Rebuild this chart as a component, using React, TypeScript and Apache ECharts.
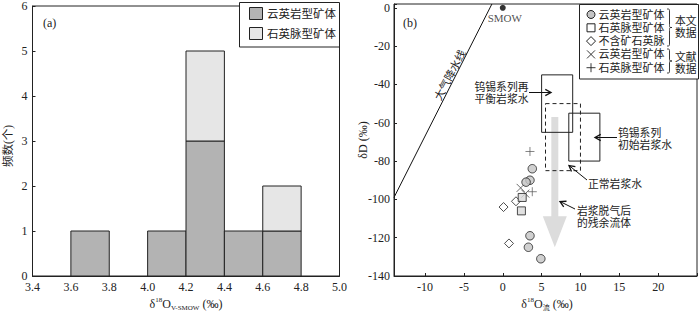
import React, { useEffect, useRef } from "react";
import * as echarts from "echarts";

// ---------- data: panel (a) histogram ----------
const binStarts = [3.6, 4.0, 4.2, 4.4, 4.6];
const binWidth = 0.2;
const greisenCounts = [1, 1, 3, 1, 1];
const veinCounts = [0, 0, 2, 0, 1];

// ---------- data: panel (b) δD vs δ18O ----------
const greisenPts = [[3.8, -84], [3.5, -90], [3.0, -91], [3.5, -119], [3.3, -125], [4.9, -131]];
const veinPts = [[2.5, -99], [2.4, -106]];
const barrenPts = [[0.1, -104], [1.7, -101], [0.8, -123]];
const litGreisenPts = [[2.3, -94], [2.9, -97]];
const litVeinPts = [[3.5, -75], [3.8, -96]];
const smowPt = [[0, 0]];
const meteoricLine = [[-14, -99], [-1.4, 2]];
// [xMin, xMax, yMin, yMax, dashed]
const reequilibratedBox = [5, 9, -65, -35, 0];
const normalBox = [5.5, 10, -85, -50, 1];
const primaryBox = [8.5, 12.5, -80, -55, 0];
// [x, yTop, yTip]
const degassingArrow = [6.7, -57, -125];

const yTicksA = [0, 1, 2, 3, 4, 5, 6];

const serif = "'Liberation Serif', 'Times New Roman', serif";
const cjk = "'Liberation Serif', 'Noto Sans CJK SC', sans-serif";
const ink = "#222";

function txt(x: number, y: number, text: string, opts: any = {}) {
  const align = opts.align || "left";
  const va = opts.va || "middle";
  return {
    type: "text",
    x,
    y,
    rotation: opts.rotation || 0,
    silent: true,
    z: 100,
    style: {
      text,
      fontSize: opts.fontSize || 11,
      fontFamily: opts.fontFamily || cjk,
      fill: opts.fill || ink,
      align,
      textAlign: align,
      verticalAlign: va,
      textVerticalAlign: va,
      rich: opts.rich,
    },
  };
}

// two-line label as two separate texts
function txt2(x: number, yMid: number, l1: string, l2: string, gap: number, opts: any = {}) {
  return [txt(x, yMid - gap / 2, l1, opts), txt(x, yMid + gap / 2, l2, opts)];
}

function arrow(x1: number, y1: number, x2: number, y2: number) {
  const ang = Math.atan2(y2 - y1, x2 - x1);
  const L = 6.5;
  const a1 = ang + Math.PI - 0.5;
  const a2 = ang + Math.PI + 0.5;
  return [
    { type: "line", silent: true, z: 100, shape: { x1, y1, x2, y2 }, style: { stroke: "#111", lineWidth: 1 } },
    {
      type: "polyline",
      silent: true,
      z: 100,
      shape: {
        points: [
          [x2 + L * Math.cos(a1), y2 + L * Math.sin(a1)],
          [x2, y2],
          [x2 + L * Math.cos(a2), y2 + L * Math.sin(a2)],
        ],
      },
      style: { stroke: "#111", fill: "none", lineWidth: 1.3 },
    },
  ];
}

function brace(x0: number, yT: number, yB: number) {
  const m = (yT + yB) / 2;
  const xm = x0 + 2.5;
  const xt = x0 + 5;
  const st = { stroke: ink, fill: "none", lineWidth: 0.9 };
  const bz = (x1: number, y1: number, cx: number, cy: number, x2: number, y2: number) => ({
    type: "bezierCurve",
    silent: true,
    z: 100,
    shape: { x1, y1, x2, y2, cpx1: cx, cpy1: cy, cpx2: cx, cpy2: cy },
    style: st,
  });
  return [
    bz(x0, yT, xm, yT, xm, yT + 3),
    { type: "line", silent: true, z: 100, shape: { x1: xm, y1: yT + 3, x2: xm, y2: m - 3 }, style: st },
    bz(xm, m - 3, xm, m, xt, m),
    bz(xt, m, xm, m, xm, m + 3),
    { type: "line", silent: true, z: 100, shape: { x1: xm, y1: m + 3, x2: xm, y2: yB - 3 }, style: st },
    bz(xm, yB - 3, xm, yB, x0, yB),
  ];
}

function buildGraphic() {
  const g: any[] = [];
  // panel labels
  g.push(txt(43, 23, "(a)", { fontFamily: serif, fontSize: 12 }));
  g.push(txt(403, 23, "(b)", { fontFamily: serif, fontSize: 12 }));

  // axis titles
  const supSub = {
    sup: { fontSize: 7, fontFamily: serif, fill: ink, padding: [0, 0, 9, 0] },
    sub: { fontSize: 7, fontFamily: serif, fill: ink, padding: [7, 0, 0, 0] },
    subc: { fontSize: 7, fontFamily: cjk, fill: ink, padding: [7, 0, 0, 0] },
  };
  g.push(txt(186, 304, "δ{sup|18}O{sub|V-SMOW} (‰)", { fontFamily: serif, fontSize: 12, align: "center", rich: supSub }));
  g.push(txt(547, 304, "δ{sup|18}O{subc|流} (‰)", { fontFamily: serif, fontSize: 12, align: "center", rich: supSub }));
  g.push(txt(8, 146, "频数(个)", { fontSize: 11.5, align: "center", rotation: Math.PI / 2 }));
  g.push(txt(363, 140, "δD (‰)", { fontFamily: serif, fontSize: 12, align: "center", rotation: Math.PI / 2 }));

  // legend (a)
  g.push({ type: "rect", silent: true, z: 90, shape: { x: 239.5, y: 2.5, width: 100, height: 44.5 }, style: { fill: "#fff", stroke: ink, lineWidth: 1 } });
  g.push({ type: "rect", silent: true, z: 100, shape: { x: 249.5, y: 7.5, width: 13, height: 12 }, style: { fill: "#b3b3b3", stroke: ink, lineWidth: 1 } });
  g.push({ type: "rect", silent: true, z: 100, shape: { x: 249.5, y: 27.5, width: 13, height: 12 }, style: { fill: "#e6e6e6", stroke: ink, lineWidth: 1 } });
  g.push(txt(267, 13.5, "云英岩型矿体", { fontSize: 11.5 }));
  g.push(txt(267, 33.5, "石英脉型矿体", { fontSize: 11.5 }));

  // legend (b)
  g.push({ type: "rect", silent: true, z: 90, shape: { x: 579.5, y: 4.5, width: 119, height: 74.5 }, style: { fill: "#fff", stroke: ink, lineWidth: 1 } });
  const lx = 591;
  const rows = [14.5, 27.8, 41.1, 54.4, 67.7];
  g.push({ type: "circle", silent: true, z: 100, shape: { cx: lx, cy: rows[0], r: 4 }, style: { fill: "#c4c4c4", stroke: ink, lineWidth: 1 } });
  g.push({ type: "rect", silent: true, z: 100, shape: { x: lx - 4, y: rows[1] - 4, width: 8, height: 8 }, style: { fill: "#fff", stroke: ink, lineWidth: 1 } });
  g.push({
    type: "polygon",
    silent: true,
    z: 100,
    shape: { points: [[lx, rows[2] - 4.5], [lx + 4.5, rows[2]], [lx, rows[2] + 4.5], [lx - 4.5, rows[2]]] },
    style: { fill: "#fff", stroke: ink, lineWidth: 1 },
  });
  g.push({ type: "line", silent: true, z: 100, shape: { x1: lx - 4, y1: rows[3] - 4, x2: lx + 4, y2: rows[3] + 4 }, style: { stroke: ink, lineWidth: 0.9 } });
  g.push({ type: "line", silent: true, z: 100, shape: { x1: lx - 4, y1: rows[3] + 4, x2: lx + 4, y2: rows[3] - 4 }, style: { stroke: ink, lineWidth: 0.9 } });
  g.push({ type: "line", silent: true, z: 100, shape: { x1: lx - 4.5, y1: rows[4], x2: lx + 4.5, y2: rows[4] }, style: { stroke: ink, lineWidth: 0.9 } });
  g.push({ type: "line", silent: true, z: 100, shape: { x1: lx, y1: rows[4] - 4.5, x2: lx, y2: rows[4] + 4.5 }, style: { stroke: ink, lineWidth: 0.9 } });
  const legendNames = ["云英岩型矿体", "石英脉型矿体", "不含矿石英脉", "云英岩型矿体", "石英脉型矿体"];
  legendNames.forEach((n, i) => g.push(txt(598.5, rows[i], n, { fontSize: 11 })));
  brace(667, 9, 46).forEach((e) => g.push(e));
  brace(667, 49, 73).forEach((e) => g.push(e));
  txt2(675, 27, "本文", "数据", 12.6, { fontSize: 10.8 }).forEach((e) => g.push(e));
  txt2(675, 63, "文献", "数据", 12.6, { fontSize: 10.8 }).forEach((e) => g.push(e));

  // meteoric water line label
  g.push(txt(450, 75, "大气降水线", { fontSize: 11, align: "center", rotation: (62 * Math.PI) / 180 }));

  // annotations
  txt2(528.5, 92.5, "钨锡系列再", "平衡岩浆水", 12, { fontSize: 10.8, align: "right" }).forEach((e) => g.push(e));
  arrow(529, 92.5, 551, 92.5).forEach((e) => g.push(e));
  txt2(618, 139, "钨锡系列", "初始岩浆水", 12.6, { fontSize: 10.8 }).forEach((e) => g.push(e));
  arrow(617, 137.5, 595, 137.5).forEach((e) => g.push(e));
  g.push(txt(588, 183.5, "正常岩浆水", { fontSize: 10.8 }));
  arrow(587, 180, 569, 165.5).forEach((e) => g.push(e));
  txt2(577, 217, "岩浆脱气后", "的残余流体", 12.2, { fontSize: 10.8 }).forEach((e) => g.push(e));
  arrow(575, 209, 560, 201.5).forEach((e) => g.push(e));
  return g;
}

function histData(base: number[], vals: number[]) {
  return binStarts.map((s, i) => [s, s + binWidth, base[i], base[i] + vals[i]]);
}

function histRender(fill: string) {
  return (params: any, api: any) => {
    const x0 = api.value(0), x1 = api.value(1), y0 = api.value(2), y1 = api.value(3);
    if (!(y1 > y0)) return null;
    const p0 = api.coord([x0, y1]);
    const p1 = api.coord([x1, y0]);
    return {
      type: "rect",
      shape: { x: p0[0], y: p0[1], width: p1[0] - p0[0], height: p1[1] - p0[1] },
      style: { fill, stroke: ink, lineWidth: 1 },
    };
  };
}

const boxRender = (params: any, api: any) => {
  const p0 = api.coord([api.value(0), api.value(3)]);
  const p1 = api.coord([api.value(1), api.value(2)]);
  const dashed = api.value(4) === 1;
  return {
    type: "rect",
    shape: { x: p0[0], y: p0[1], width: p1[0] - p0[0], height: p1[1] - p0[1] },
    style: { fill: "none", stroke: ink, lineWidth: 1, lineDash: dashed ? [4, 3] : null },
  };
};

const arrowRender = (params: any, api: any) => {
  const top = api.coord([api.value(0), api.value(1)]);
  const tip = api.coord([api.value(0), api.value(2)]);
  const cx = top[0];
  const hs = tip[1] - 31;
  const sw = 3.5;
  const hw = 12;
  return {
    type: "polygon",
    shape: {
      points: [
        [cx - sw, top[1]], [cx + sw, top[1]], [cx + sw, hs], [cx + hw, hs],
        [cx, tip[1]], [cx - hw, hs], [cx - sw, hs],
      ],
    },
    style: { fill: "#dcdcdc", stroke: "none" },
  };
};

export default function App() {
  const ref = useRef<HTMLDivElement>(null);
  useEffect(() => {
    document.body.style.margin = "0";
    if (!ref.current) return;
    const chart = echarts.init(ref.current, null, { renderer: "svg" });
    const axisCommon = {
      axisLine: { show: true, onZero: false, lineStyle: { color: ink, width: 1 } },
      splitLine: { show: false },
    };
    const labelCommon = { fontSize: 12, fontFamily: serif, color: ink };
    chart.setOption({
      animation: false,
      backgroundColor: "#fff",
      grid: [
        { left: 32.5, top: 2, width: 307, height: 274, show: true, borderColor: ink, borderWidth: 1, backgroundColor: "transparent" },
        { left: 394, top: 4, width: 305, height: 272, show: true, borderColor: ink, borderWidth: 1, backgroundColor: "transparent" },
      ],
      xAxis: [
        {
          gridIndex: 0, type: "value", min: 3.4, max: 5.0, interval: 0.2, ...axisCommon,
          axisTick: { show: false },
          axisLabel: { ...labelCommon, margin: 5, formatter: (v: number) => v.toFixed(1) },
        },
        {
          gridIndex: 1, type: "value", min: -14, max: 25, splitNumber: 8, ...axisCommon,
          axisTick: { show: true, inside: true, length: 3, lineStyle: { color: ink } },
          axisLabel: {
            ...labelCommon, margin: 5,
            formatter: (v: number) => (Math.abs(v % 5) < 1e-6 && v >= -10 && v <= 20 ? String(v) : ""),
          },
        },
      ],
      yAxis: [
        {
          gridIndex: 0, type: "value", min: yTicksA[0], max: yTicksA[yTicksA.length - 1], interval: 1, ...axisCommon,
          axisTick: { show: true, inside: true, length: 3, lineStyle: { color: ink } },
          axisLabel: { ...labelCommon, margin: 5 },
        },
        {
          gridIndex: 1, type: "value", min: -140, max: 2, interval: 20, ...axisCommon,
          axisTick: { show: true, inside: true, length: 3, lineStyle: { color: ink } },
          axisLabel: { ...labelCommon, margin: 4, formatter: (v: number) => (v <= 0 ? String(v) : "") },
        },
      ],
      series: [
        {
          type: "custom", xAxisIndex: 0, yAxisIndex: 0, renderItem: histRender("#b3b3b3"),
          data: histData([0, 0, 0, 0, 0], greisenCounts), silent: true,
        },
        {
          type: "custom", xAxisIndex: 0, yAxisIndex: 0, renderItem: histRender("#e6e6e6"),
          data: histData(greisenCounts, veinCounts), silent: true,
        },
        {
          type: "line", xAxisIndex: 1, yAxisIndex: 1, data: meteoricLine, symbol: "none",
          lineStyle: { color: "#111", width: 1 }, silent: true, z: 3,
        },
        {
          type: "custom", xAxisIndex: 1, yAxisIndex: 1, renderItem: arrowRender,
          data: [degassingArrow], silent: true, z: 2,
        },
        {
          type: "custom", xAxisIndex: 1, yAxisIndex: 1, renderItem: boxRender,
          data: [reequilibratedBox, normalBox, primaryBox], silent: true, z: 3,
        },
        {
          type: "scatter", xAxisIndex: 1, yAxisIndex: 1, data: litGreisenPts, z: 4,
          symbol: "path://M0,0L10,10M10,0L0,10", symbolSize: 8,
          itemStyle: { color: "transparent", borderColor: "#333", borderWidth: 0.9 }, silent: true,
        },
        {
          type: "scatter", xAxisIndex: 1, yAxisIndex: 1, data: litVeinPts, z: 4,
          symbol: "path://M5,0L5,10M0,5L10,5", symbolSize: 9,
          itemStyle: { color: "transparent", borderColor: "#555", borderWidth: 0.9 }, silent: true,
        },
        {
          type: "scatter", xAxisIndex: 1, yAxisIndex: 1, data: barrenPts, z: 5,
          symbol: "diamond", symbolSize: [9, 9],
          itemStyle: { color: "#fff", borderColor: ink, borderWidth: 1 }, silent: true,
        },
        {
          type: "scatter", xAxisIndex: 1, yAxisIndex: 1, data: veinPts, z: 5,
          symbol: "rect", symbolSize: 8,
          itemStyle: { color: "#d9d9d9", borderColor: ink, borderWidth: 1 }, silent: true,
        },
        {
          type: "scatter", xAxisIndex: 1, yAxisIndex: 1, data: greisenPts, z: 6,
          symbol: "circle", symbolSize: 8.5,
          itemStyle: { color: "#c4c4c4", borderColor: ink, borderWidth: 1 }, silent: true,
        },
        {
          type: "scatter", xAxisIndex: 1, yAxisIndex: 1, data: smowPt, z: 6,
          symbol: "circle", symbolSize: 6, itemStyle: { color: "#000" }, silent: true,
          label: {
            show: true, formatter: "SMOW", position: "bottom", distance: 2,
            fontFamily: serif, fontSize: 11, color: ink, offset: [2, 0],
          },
        },
      ],
      graphic: buildGraphic(),
    });
    return () => chart.dispose();
  }, []);
  return <div ref={ref} style={{ width: 700, height: 312 }} />;
}
